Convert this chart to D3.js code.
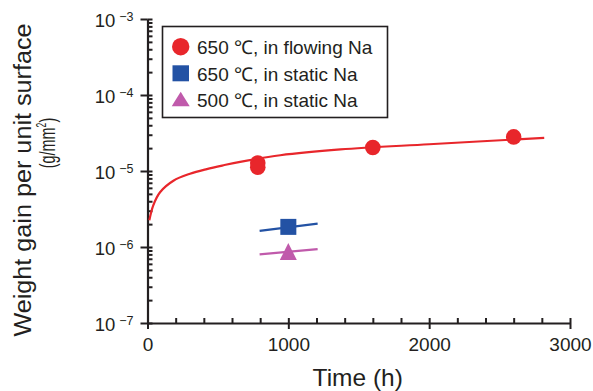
<!DOCTYPE html>
<html>
<head>
<meta charset="utf-8">
<script src="https://cdn.jsdelivr.net/npm/d3@7"></script>
<style>
  body { margin: 0; background: #fff; }
  svg { font-family: "Liberation Sans", Arial, Helvetica, sans-serif; }
</style>
</head>
<body>
<svg id="chart" width="593" height="391"></svg>
<script>
// data
const flowTime = [783, 783, 1600, 2600];
const flowGain = [1.27e-5, 1.12e-5, 2.04e-5, 2.81e-5];
const static650Time = [1000];
const static650Gain = [1.84e-6];
const static500Time = [1000];
const static500Gain = [8.0e-7];

// fitted curves
const fitFlowTime = [13, 41, 89, 184, 302, 421, 540, 658, 943, 1370, 2000, 2817];
const fitFlowGain = [2.25e-6, 3.54e-6, 5.26e-6, 7.45e-6, 9.2e-6, 1.06e-5, 1.19e-5, 1.32e-5, 1.61e-5, 1.92e-5, 2.25e-5, 2.73e-5];
const fit650Time = [796, 1208];
const fit650Gain = [1.63e-6, 2.03e-6];
const fit500Time = [796, 1208];
const fit500Gain = [8.0e-7, 9.4e-7];

const xTicks = [0, 1000, 2000, 3000];
const yExponents = [-7, -6, -5, -4, -3];
const legendLabels = ['650 \u2103, in flowing Na', '650 \u2103, in static Na', '500 \u2103, in static Na'];

const red = '#e8262b', blue = '#2352a4', pink = '#c05aab', ink = '#231f20';

const svg = d3.select('#chart');
const margin = {left: 147.5, top: 19, right: 23, bottom: 68};
const W = 593, H = 391;

const x = d3.scaleLinear().domain([0, 3000]).range([margin.left, W - margin.right]);
const y = d3.scaleLog().domain([1e-7, 1e-3]).range([H - margin.bottom, margin.top]);

const plot = svg.append('g');

// y axis: majors out + in, minors inside
const yMajor = yExponents.map(e => Math.pow(10, e));
const yMinor = [];
yExponents.slice(0, -1).forEach(e => { for (let k = 2; k <= 9; k++) yMinor.push(k * Math.pow(10, e)); });

const yLeft = plot.append('g')
  .attr('transform', `translate(${margin.left},0)`)
  .call(d3.axisLeft(y).tickValues(yMajor).tickSizeInner(7).tickSizeOuter(0).tickPadding(7).tickFormat(() => ''));
yLeft.select('.domain').attr('stroke', ink).attr('stroke-width', 2.2);
yLeft.selectAll('line').attr('stroke', ink).attr('stroke-width', 2);
yLeft.selectAll('.tick text').each(function(d) {
  const t = d3.select(this).attr('font-size', 18.5).attr('fill', ink).attr('dy', '0.42em').attr('font-family', null);
  t.append('tspan').text('10');
  t.append('tspan').attr('font-size', 12.5).attr('dx', 4).attr('dy', -6.5).text('\u2212' + Math.abs(Math.round(Math.log10(d))));
});

const yRight = plot.append('g')
  .attr('transform', `translate(${margin.left},0)`)
  .call(d3.axisRight(y).tickValues(yMajor.concat(yMinor)).tickSizeInner(5).tickSizeOuter(0).tickFormat(''));
yRight.select('.domain').remove();
yRight.selectAll('line').attr('stroke', ink).attr('stroke-width', 2);

// x axis
const xMinor = d3.range(0, 3001, 200);
const xBottom = plot.append('g')
  .attr('transform', `translate(0,${y(1e-7)})`)
  .call(d3.axisBottom(x).tickValues(xTicks).tickSizeInner(6).tickSizeOuter(0).tickPadding(9).tickFormat(d3.format('d')));
xBottom.select('.domain').attr('stroke', ink).attr('stroke-width', 2.2);
xBottom.selectAll('line').attr('stroke', ink).attr('stroke-width', 2);
xBottom.selectAll('text').attr('font-size', 19).attr('fill', ink).attr('font-family', null);

const xTop = plot.append('g')
  .attr('transform', `translate(0,${y(1e-7)})`)
  .call(d3.axisTop(x).tickValues(xMinor).tickSizeInner(5).tickSizeOuter(0).tickFormat(''));
xTop.select('.domain').remove();
xTop.selectAll('line').attr('stroke', ink).attr('stroke-width', 2);

// axis titles
svg.append('text')
  .attr('x', (x(0) + x(3000)) / 2 - 1).attr('y', 386)
  .attr('text-anchor', 'middle').attr('font-size', 24.5).attr('fill', ink)
  .text('Time (h)');

svg.append('text')
  .attr('transform', 'translate(31,180) rotate(-90) scale(1.05,1)')
  .attr('text-anchor', 'middle').attr('font-size', 24).attr('fill', ink)
  .text('Weight gain per unit surface');

const unit = svg.append('text')
  .attr('transform', 'translate(55,143) rotate(-90) scale(0.72,1.15)')
  .attr('text-anchor', 'middle').attr('font-size', 20).attr('fill', ink);
unit.append('tspan').text('(g/mm');
unit.append('tspan').attr('font-size', 12).attr('dy', -8).text('2');
unit.append('tspan').attr('dy', 8).text(')');

// fitted lines
const line = d3.line().x(d => x(d[0])).y(d => y(d[1])).curve(d3.curveCatmullRom.alpha(0.5));
const zip = (a, b) => a.map((v, i) => [v, b[i]]);

plot.append('path').datum(zip(fitFlowTime, fitFlowGain))
  .attr('d', line).attr('fill', 'none').attr('stroke', red).attr('stroke-width', 2.2);
plot.append('path').datum(zip(fit650Time, fit650Gain))
  .attr('d', line).attr('fill', 'none').attr('stroke', blue).attr('stroke-width', 2.2);
plot.append('path').datum(zip(fit500Time, fit500Gain))
  .attr('d', line).attr('fill', 'none').attr('stroke', pink).attr('stroke-width', 2.2);

// markers
const tri = (w, h) => `M0,${-2 * h / 3}L${w / 2},${h / 3}L${-w / 2},${h / 3}Z`;

plot.selectAll('.flow').data(zip(flowTime, flowGain)).enter()
  .append('circle').attr('class', 'flow')
  .attr('cx', d => x(d[0])).attr('cy', d => y(d[1])).attr('r', 7.8).attr('fill', red);

plot.selectAll('.s650').data(zip(static650Time, static650Gain)).enter()
  .append('rect').attr('class', 's650')
  .attr('x', d => x(d[0]) - 8).attr('y', d => y(d[1]) - 8)
  .attr('width', 16).attr('height', 16).attr('fill', blue);

plot.selectAll('.s500').data(zip(static500Time, static500Gain)).enter()
  .append('path').attr('class', 's500')
  .attr('transform', d => `translate(${x(d[0])},${y(d[1])})`)
  .attr('d', tri(17, 17)).attr('fill', pink);

// legend
const legend = svg.append('g');
legend.append('rect')
  .attr('x', 162.5).attr('y', 26.5).attr('width', 225).attr('height', 91)
  .attr('fill', '#fff').attr('stroke', ink).attr('stroke-width', 1.6);

const rowY = [46.7, 73.3, 99.5];
legend.append('circle').attr('cx', 180.7).attr('cy', rowY[0]).attr('r', 8.7).attr('fill', red);
legend.append('rect').attr('x', 172.5).attr('y', rowY[1] - 8).attr('width', 16.5).attr('height', 16).attr('fill', blue);
legend.append('path').attr('transform', `translate(180.7,${rowY[2] + 2})`).attr('d', tri(18, 14.5)).attr('fill', pink);

legend.selectAll('.lab').data(legendLabels).enter()
  .append('text').attr('class', 'lab')
  .attr('x', 197).attr('y', (d, i) => rowY[i] + 7.3)
  .attr('font-size', 19).attr('fill', ink)
  .text(d => d);
</script>
</body>
</html>
